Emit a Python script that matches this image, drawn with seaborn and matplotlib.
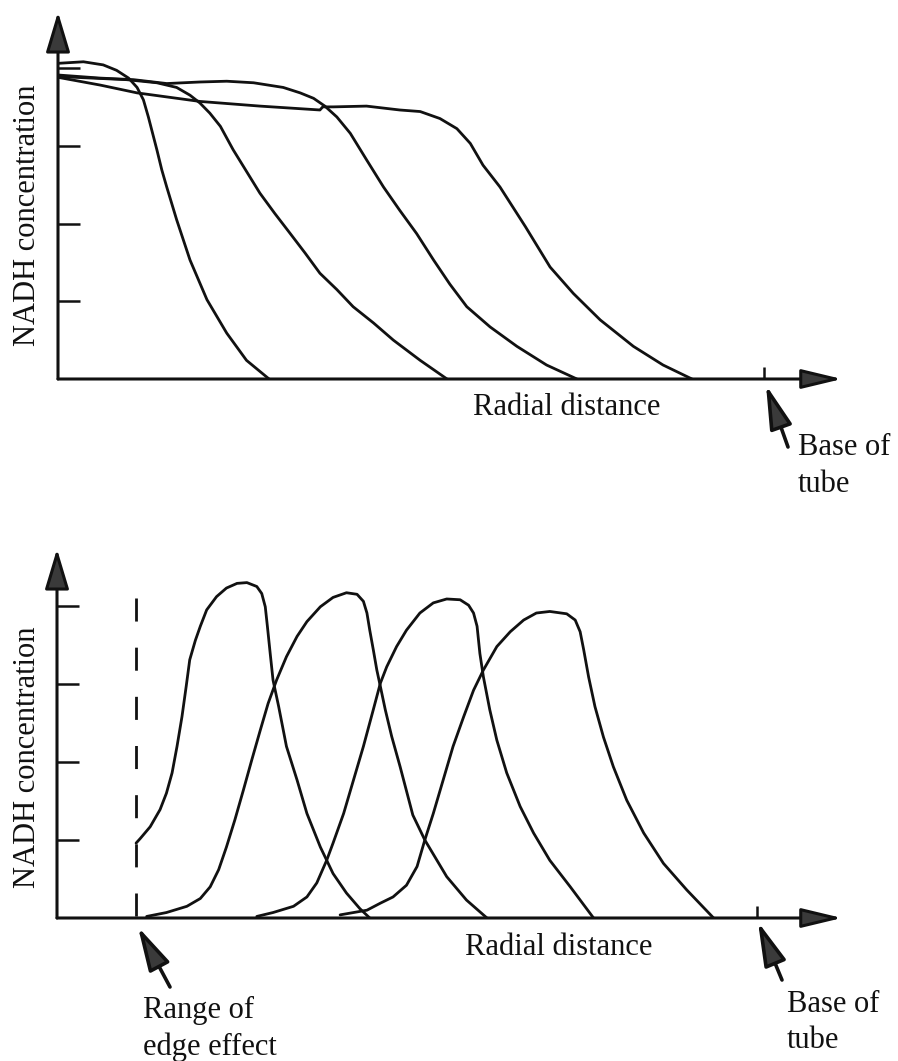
import matplotlib
matplotlib.use("Agg")
import matplotlib.pyplot as plt
import pandas as pd
import seaborn as sns

# ---------------------------------------------------------------------------
# Data (radial distance in arbitrary units, base of tube at 10;
# NADH concentration in arbitrary units, ticks at 1..4)
# ---------------------------------------------------------------------------

# Upper panel: four NADH profiles falling off towards the base of the tube
top_c1_x = [0.00, 0.36, 0.64, 0.83, 1.00, 1.12, 1.21, 1.28, 1.34, 1.40, 1.47, 1.54,
            1.68, 1.87, 2.11, 2.39, 2.67, 2.99]
top_c1_y = [4.06, 4.08, 4.04, 3.97, 3.87, 3.75, 3.59, 3.37, 3.16, 2.95, 2.69, 2.47,
            2.05, 1.53, 1.02, 0.59, 0.24, 0.00]

top_c2_x = [0.00, 0.97, 1.40, 1.68, 1.87, 2.01, 2.15, 2.30, 2.48, 2.67, 2.86, 3.07,
            3.29, 3.50, 3.71, 3.95, 4.18, 4.47, 4.75, 5.13, 5.51]
top_c2_y = [3.89, 3.85, 3.81, 3.75, 3.65, 3.55, 3.42, 3.25, 2.95, 2.67, 2.39, 2.13,
            1.87, 1.62, 1.36, 1.15, 0.93, 0.72, 0.50, 0.24, 0.00]

top_c3_x = [0.00, 0.60, 1.07, 1.54, 2.01, 2.39, 2.77, 3.19, 3.43, 3.62, 3.78, 3.95,
            4.14, 4.37, 4.61, 4.84, 5.08, 5.32, 5.55, 5.79, 6.12, 6.50, 6.92, 7.35]
top_c3_y = [3.91, 3.87, 3.85, 3.80, 3.82, 3.83, 3.81, 3.75, 3.68, 3.61, 3.51, 3.37,
            3.16, 2.82, 2.47, 2.17, 1.87, 1.53, 1.22, 0.93, 0.67, 0.42, 0.18, 0.00]

top_c4_x = [0.00, 0.60, 1.12, 2.01, 2.86, 3.71, 3.75, 3.90, 4.37, 4.84, 5.13, 5.41,
            5.65, 5.84, 6.02, 6.26, 6.62, 6.97, 7.30, 7.68, 8.15, 8.57, 8.98]
top_c4_y = [3.88, 3.78, 3.68, 3.57, 3.51, 3.46, 3.50, 3.50, 3.51, 3.46, 3.44, 3.35,
            3.22, 3.03, 2.75, 2.47, 1.96, 1.44, 1.10, 0.76, 0.42, 0.18, 0.00]

# Lower panel: four travelling NADH peaks
bot_a_x = [1.12, 1.18, 1.32, 1.46, 1.55, 1.63, 1.70, 1.77, 1.83, 1.88, 1.96, 2.03,
           2.12, 2.26, 2.40, 2.55, 2.69, 2.83, 2.90, 2.95, 2.98, 3.02, 3.06, 3.14,
           3.25, 3.40, 3.54, 3.73, 3.91, 4.10, 4.29, 4.43]
bot_a_y = [0.96, 1.02, 1.17, 1.39, 1.60, 1.86, 2.20, 2.58, 2.97, 3.31, 3.56, 3.74,
           3.95, 4.12, 4.23, 4.29, 4.30, 4.25, 4.16, 3.99, 3.74, 3.39, 3.05, 2.71,
           2.20, 1.77, 1.34, 0.91, 0.57, 0.32, 0.12, 0.00]

bot_b_x = [1.27, 1.55, 1.84, 2.03, 2.17, 2.29, 2.40, 2.52, 2.64, 2.76, 2.88, 2.99,
           3.11, 3.25, 3.40, 3.54, 3.73, 3.91, 4.10, 4.25, 4.34, 4.39, 4.43, 4.48,
           4.53, 4.58, 4.65, 4.74, 4.86, 5.04, 5.21, 5.52, 5.80, 6.09]
bot_b_y = [0.02, 0.07, 0.15, 0.25, 0.40, 0.62, 0.91, 1.26, 1.64, 2.03, 2.41, 2.75,
           3.05, 3.35, 3.61, 3.80, 3.99, 4.11, 4.17, 4.15, 4.06, 3.91, 3.69, 3.44,
           3.18, 2.97, 2.67, 2.33, 1.94, 1.32, 1.00, 0.53, 0.23, 0.00]

bot_c_x = [2.83, 3.06, 3.35, 3.54, 3.68, 3.82, 3.91, 4.06, 4.20, 4.34, 4.48, 4.58,
           4.67, 4.81, 4.95, 5.14, 5.33, 5.52, 5.71, 5.83, 5.90, 5.95, 5.99, 6.04,
           6.13, 6.23, 6.37, 6.56, 6.75, 6.98, 7.27, 7.60]
bot_c_y = [0.02, 0.07, 0.15, 0.27, 0.45, 0.74, 0.96, 1.34, 1.77, 2.20, 2.67, 3.01,
           3.22, 3.48, 3.69, 3.91, 4.04, 4.09, 4.08, 4.01, 3.91, 3.74, 3.39, 3.09,
           2.67, 2.28, 1.86, 1.43, 1.09, 0.74, 0.40, 0.00]

bot_d_x = [4.01, 4.39, 4.58, 4.76, 4.95, 5.10, 5.21, 5.33, 5.47, 5.61, 5.76, 5.90,
           6.04, 6.23, 6.42, 6.61, 6.79, 6.98, 7.22, 7.34, 7.41, 7.46, 7.53, 7.62,
           7.74, 7.88, 8.07, 8.31, 8.59, 8.92, 9.30]
bot_d_y = [0.04, 0.10, 0.19, 0.27, 0.42, 0.66, 1.00, 1.34, 1.77, 2.20, 2.58, 2.92,
           3.18, 3.48, 3.67, 3.82, 3.91, 3.93, 3.90, 3.82, 3.67, 3.44, 3.09, 2.71,
           2.32, 1.94, 1.51, 1.09, 0.70, 0.36, 0.00]

conc_ticks = [1, 2, 3, 4]
tube_base_top = 10.0
tube_base_bottom = 9.92
edge_range_x = 1.12
edge_range_top = 4.10

y_label = "NADH concentration"
x_label = "Radial distance"
tube_label = ["Base of", "tube"]
edge_label = ["Range of", "edge effect"]


def long_frame(curves):
    frames = []
    for name, (xs, ys) in curves.items():
        frames.append(pd.DataFrame({"distance": xs, "conc": ys, "curve": name}))
    return pd.concat(frames, ignore_index=True)


top_df = long_frame({"t1": (top_c1_x, top_c1_y), "t2": (top_c2_x, top_c2_y),
                     "t3": (top_c3_x, top_c3_y), "t4": (top_c4_x, top_c4_y)})
bot_df = long_frame({"b1": (bot_a_x, bot_a_y), "b2": (bot_b_x, bot_b_y),
                     "b3": (bot_c_x, bot_c_y), "b4": (bot_d_x, bot_d_y)})

# ---------------------------------------------------------------------------
# Styling
# ---------------------------------------------------------------------------
sns.set_theme(style="white")
plt.rcParams["font.family"] = ["Liberation Serif", "DejaVu Serif"]

INK = "#111111"
HEAD = "#3a3a3a"
FS = 22
W, H = 898, 1061

fig = plt.figure(figsize=(W / 100, H / 100), dpi=100)
fig.patch.set_facecolor("white")


def axes_px(left, top, right, bottom):
    return fig.add_axes([left / W, 1 - bottom / H, (right - left) / W, (bottom - top) / H])


ax_top = axes_px(58, 12, 842, 379)
ax_bot = axes_px(57, 549, 842, 918)

px_per_x, px_per_y_top, px_per_y_bot = 70.6, 77.75, 78.0
ax_top.set_xlim(0, (842 - 58) / px_per_x)
ax_top.set_ylim(0, (379 - 12) / px_per_y_top)
ax_bot.set_xlim(0, (842 - 57) / px_per_x)
ax_bot.set_ylim(0, (918 - 549) / px_per_y_bot)

for ax, df in ((ax_top, top_df), (ax_bot, bot_df)):
    sns.lineplot(data=df, x="distance", y="conc", units="curve", estimator=None,
                 sort=False, color=INK, linewidth=2.0, ax=ax,
                 solid_joinstyle="round", solid_capstyle="round")
    ax.set_xlabel("")
    ax.set_ylabel("")
    ax.set_facecolor("none")
    for s in ax.spines.values():
        s.set_visible(False)
    ax.set_yticks(conc_ticks)
    ax.set_yticklabels([])
    ax.tick_params(axis="y", left=True, direction="in", length=16, width=1.8, color=INK)
    # axis lines with arrowheads
    ax.annotate("", xy=(1, 0), xytext=(0, 0), xycoords="axes fraction",
                arrowprops=dict(arrowstyle="-|>,head_length=25,head_width=6",
                                mutation_scale=1, lw=2.2, fc=HEAD, ec=INK,
                                shrinkA=0, shrinkB=0), annotation_clip=False)
    ax.annotate("", xy=(0, 1), xytext=(0, 0), xycoords="axes fraction",
                arrowprops=dict(arrowstyle="-|>,head_length=25,head_width=7.5",
                                mutation_scale=1, lw=2.2, fc=HEAD, ec=INK,
                                shrinkA=0, shrinkB=0), annotation_clip=False)

ax_top.set_xticks([tube_base_top])
ax_bot.set_xticks([tube_base_bottom])
for ax in (ax_top, ax_bot):
    ax.set_xticklabels([])
    ax.tick_params(axis="x", bottom=True, direction="in", length=8.5, width=1.8, color=INK)

# dashed line marking the range of the edge effect
ax_bot.plot([edge_range_x, edge_range_x], [edge_range_top, 0], color=INK, lw=2.0,
            linestyle=(0, (8.3, 9.4)), solid_capstyle="butt")


def fig_text(x, y, s, **kw):
    fig.text(x / W, 1 - y / H, s, fontsize=FS, color=INK, **kw)


def fig_arrow(tip, tail):
    ax_bot.annotate("", xy=(tip[0], H - tip[1]), xytext=(tail[0], H - tail[1]),
                    xycoords="figure pixels", textcoords="figure pixels",
                    arrowprops=dict(arrowstyle="-|>,head_length=27,head_width=7",
                                    mutation_scale=1, lw=2.6, fc=HEAD, ec=INK,
                                    shrinkA=0, shrinkB=0),
                    annotation_clip=False)


# axis titles
fig_text(28, 215, y_label, rotation=90, ha="center", va="center")
fig_text(28, 757, y_label, rotation=90, ha="center", va="center")
fig_text(567, 415, x_label, ha="center", va="baseline")
fig_text(559, 955, x_label, ha="center", va="baseline")

# base of tube callouts
fig_text(798, 455, tube_label[0], ha="left", va="baseline")
fig_text(798, 492, tube_label[1], ha="left", va="baseline")
fig_arrow((766, 385), (788, 447))

fig_text(787, 1012, tube_label[0], ha="left", va="baseline")
fig_text(787, 1048, tube_label[1], ha="left", va="baseline")
fig_arrow((758, 922), (782, 980))

# edge-effect callout
fig_text(143, 1018, edge_label[0], ha="left", va="baseline")
fig_text(143, 1055, edge_label[1], ha="left", va="baseline")
fig_arrow((138, 927), (170, 987))

fig.savefig("out.png", dpi=100, facecolor="white")
